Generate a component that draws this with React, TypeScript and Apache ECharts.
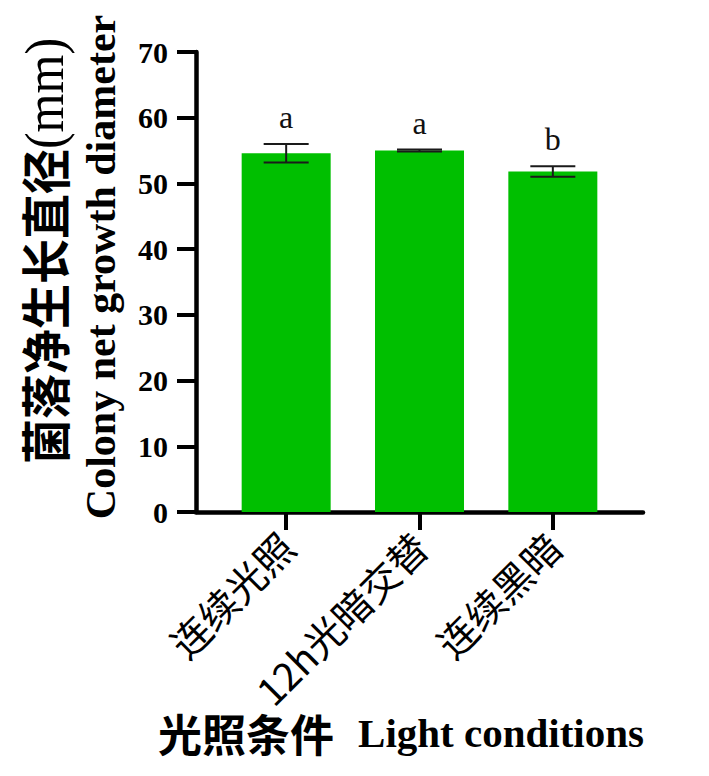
import React, { useEffect, useRef } from "react";
import * as echarts from "echarts";

const categories = ["连续光照", "12h光暗交替", "连续黑暗"];
const means = [54.6, 55.0, 51.8];
const errors = [1.4, 0.15, 0.8];
const letters = ["a", "a", "b"];
const yMin = 0;
const yMax = 70;
const yInterval = 10;

const yTitleCn = "菌落净生长直径";
const yTitleUnit = "(mm)";
const yTitleEn = "Colony net growth diameter";
const xTitleCn = "光照条件";
const xTitleEn = "Light conditions";

const SERIF = "'Liberation Serif', 'Times New Roman', serif";
const CJK = "'Noto Sans CJK SC', 'Noto Sans', sans-serif";

export default function App() {
  const ref = useRef<HTMLDivElement>(null);
  useEffect(() => {
    if (!ref.current) return;
    const chart = echarts.init(ref.current, null, { renderer: "svg" });
    const errData = categories.map((_, i) => [i, means[i], errors[i]]);
    chart.setOption({
      animation: false,
      backgroundColor: "#ffffff",
      grid: [
        { left: 196, right: 66, top: 52, bottom: 264 },
        { left: 219.5, right: 89.5, top: 52, bottom: 264 },
      ],
      xAxis: [
        {
          gridIndex: 0,
          type: "value",
          min: 0,
          max: 1,
          axisLine: { show: true, lineStyle: { color: "#000", width: 4.5 } },
          axisTick: { show: false },
          axisLabel: { show: false },
          splitLine: { show: false },
        },
        {
          gridIndex: 1,
          type: "category",
          data: categories,
          axisLine: { show: false },
          axisTick: {
            show: true,
            alignWithLabel: true,
            length: 18,
            lineStyle: { color: "#000", width: 4 },
          },
          axisLabel: {
            rotate: 45,
            margin: 27,
            interval: 0,
            fontFamily: CJK,
            fontSize: 39,
            color: "#000",
          },
        },
      ],
      yAxis: [
        {
          gridIndex: 0,
          type: "value",
          min: yMin,
          max: yMax,
          interval: yInterval,
          axisLine: { show: true, lineStyle: { color: "#000", width: 4.5 } },
          axisTick: {
            show: true,
            length: 19,
            lineStyle: { color: "#000", width: 4 },
          },
          axisLabel: {
            margin: 28,
            fontFamily: SERIF,
            fontWeight: "bold",
            fontSize: 30,
            color: "#000",
          },
          splitLine: { show: false },
        },
        {
          gridIndex: 1,
          type: "value",
          min: yMin,
          max: yMax,
          interval: yInterval,
          show: false,
          splitLine: { show: false },
        },
      ],
      series: [
        {
          type: "bar",
          xAxisIndex: 1,
          yAxisIndex: 1,
          data: means,
          barWidth: 89,
          itemStyle: { color: "#00BF00" },
          z: 2,
        },
        {
          type: "custom",
          xAxisIndex: 1,
          yAxisIndex: 1,
          data: errData,
          z: 5,
          renderItem: (params: any, api: any) => {
            const idx = api.value(0);
            const m = api.value(1);
            const e = api.value(2);
            const top = api.coord([idx, m + e]);
            const bot = api.coord([idx, m - e]);
            const half = 22.5;
            const st = { stroke: "#1a1a1a", lineWidth: 2 };
            return {
              type: "group",
              children: [
                { type: "line", shape: { x1: top[0], y1: top[1], x2: bot[0], y2: bot[1] }, style: st },
                { type: "line", shape: { x1: top[0] - half, y1: top[1], x2: top[0] + half, y2: top[1] }, style: st },
                { type: "line", shape: { x1: bot[0] - half, y1: bot[1], x2: bot[0] + half, y2: bot[1] }, style: st },
                {
                  type: "text",
                  x: top[0],
                  y: top[1] - 11,
                  style: {
                    text: letters[params.dataIndex],
                    align: "center",
                    verticalAlign: "bottom",
                    fontFamily: SERIF,
                    fontSize: 32,
                    fill: "#111",
                  },
                },
              ],
            };
          },
        },
      ],
      graphic: [
        {
          type: "text",
          x: 44,
          y: 251,
          rotation: Math.PI / 2,
          scaleY: 1.1,
          style: {
            text: `{c|${yTitleCn}}{e|${yTitleUnit}}`,
            align: "center",
            verticalAlign: "middle",
            rich: {
              c: { fontFamily: CJK, fontSize: 45, fontWeight: "bold", fill: "#000" },
              e: { fontFamily: SERIF, fontSize: 50, fill: "#000" },
            },
          },
        },
        {
          type: "text",
          x: 101,
          y: 267,
          rotation: Math.PI / 2,
          style: {
            text: yTitleEn,
            align: "center",
            verticalAlign: "middle",
            fontFamily: SERIF,
            fontWeight: "bold",
            fontSize: 42,
            fill: "#000",
          },
        },
        {
          type: "text",
          x: 401,
          y: 733,
          style: {
            text: `{c|${xTitleCn}}{s| }{e|${xTitleEn}}`,
            align: "center",
            verticalAlign: "middle",
            rich: {
              c: { fontFamily: CJK, fontSize: 44, fontWeight: "bold", fill: "#000" },
              s: { width: 24, fontSize: 20 },
              e: { fontFamily: SERIF, fontSize: 41, fontWeight: "bold", fill: "#000" },
            },
          },
        },
      ],
    });
    return () => chart.dispose();
  }, []);
  return (
    <div
      ref={ref}
      style={{ position: "fixed", left: 0, top: 0, width: 709, height: 776 }}
    />
  );
}
